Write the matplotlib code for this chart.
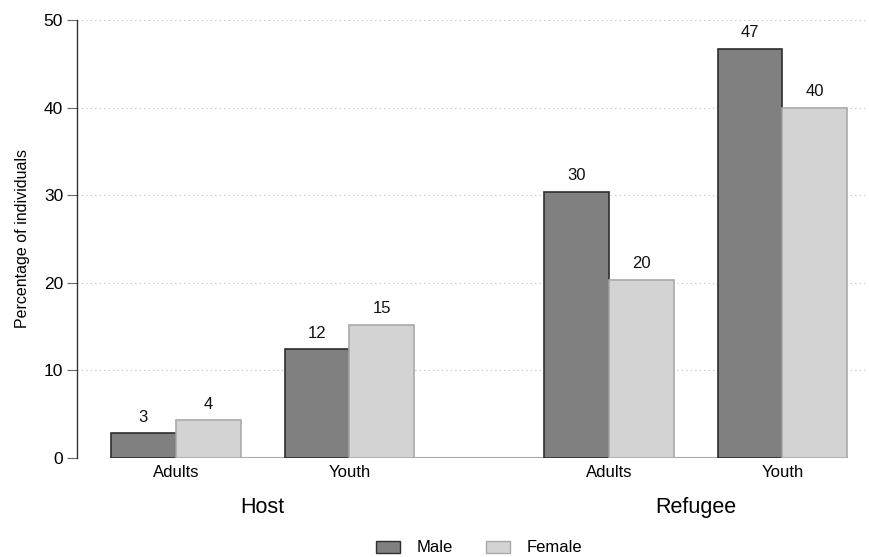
import matplotlib
matplotlib.use("Agg")
import matplotlib.pyplot as plt
from matplotlib.patches import Patch

plt.rcParams['font.family'] = ['Liberation Sans', 'DejaVu Sans']

groups = ["Host", "Refugee"]
categories = ["Adults", "Youth"]
male = [2.8, 12.4, 30.4, 46.7]
female = [4.3, 15.2, 20.3, 40.0]
yticks = [0, 10, 20, 30, 40, 50]

# category centers (in bar-width units)
centers = [0.0, 2.68, 6.68, 9.36]
w = 1.0

fig = plt.figure(figsize=(8.7, 5.57), dpi=100)
ax = fig.add_axes([77/870, 99/557, (868-77)/870, 438/557])

male_c, male_e = "#808080", "#2e2e2e"
fem_c, fem_e = "#d3d3d3", "#a9a9a9"

for yv in yticks:
    ax.axhline(yv, color="#bdbdbd", lw=0.8, ls=(0, (1, 3)), zorder=0)

mx = [c - w/2 for c in centers]
fx = [c + w/2 for c in centers]
ax.bar(mx, male, width=w, color=male_c, edgecolor=male_e, linewidth=1.2, zorder=3)
ax.bar(fx, female, width=w, color=fem_c, edgecolor=fem_e, linewidth=1.2, zorder=3)

ax.plot([mx[0]-w/2, fx[-1]+w/2], [0, 0], color="#a9a9a9", lw=1.5, zorder=2)

for x, v in zip(mx, male):
    ax.text(x, v + 1.0, f"{round(v)}", ha="center", va="bottom", fontsize=12, color="#111")
for x, v in zip(fx, female):
    ax.text(x, v + 1.0, f"{round(v)}", ha="center", va="bottom", fontsize=12, color="#111")

ax.set_xlim(-1.523, 10.68)
ax.set_ylim(0, 50)
ax.set_yticks(yticks)
ax.set_yticklabels([str(t) for t in yticks], fontsize=12.5)
ax.tick_params(axis="y", length=7, color="#666", width=0.8, pad=3)
ax.set_xticks(centers)
ax.set_xticklabels(categories * 2, fontsize=12)
ax.tick_params(axis="x", length=0, pad=5)
for s in ["top", "right", "bottom"]:
    ax.spines[s].set_visible(False)
ax.spines["left"].set_color("#333")
ax.spines["left"].set_linewidth(1.0)
ax.set_ylabel("Percentage of individuals", fontsize=11.5, labelpad=10)

for gi, g in enumerate(groups):
    gc = (centers[2*gi] + centers[2*gi+1]) / 2
    ax.text(gc, -5.6, g, ha="center", va="center", fontsize=15.5, transform=ax.transData)

handles = [Patch(facecolor=male_c, edgecolor=male_e, label="Male"),
           Patch(facecolor=fem_c, edgecolor=fem_e, label="Female")]
fig.legend(handles=handles, loc="center", bbox_to_anchor=(479/870, 1 - 548/557),
           ncol=2, frameon=False, fontsize=12, handlelength=1.45, handleheight=0.75,
           columnspacing=2.0, handletextpad=1.0)

fig.savefig("out.png", dpi=100)
